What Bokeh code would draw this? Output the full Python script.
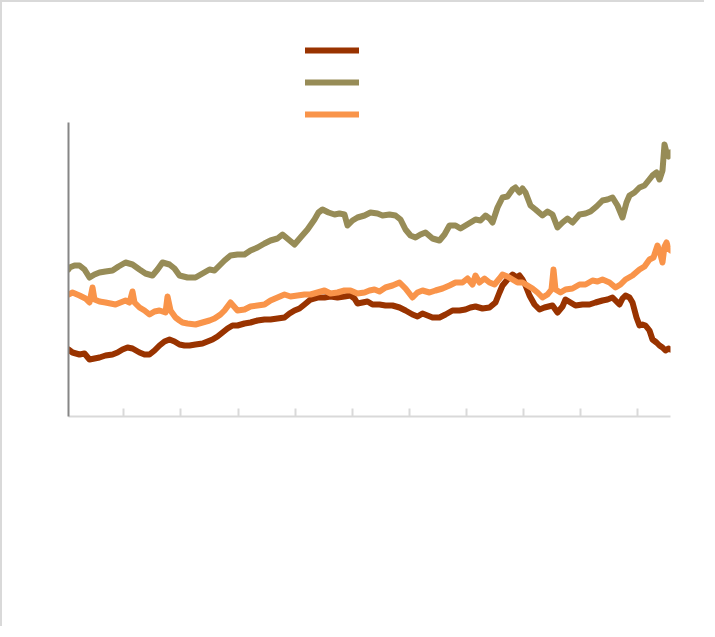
from bokeh.plotting import figure
from bokeh.models import Range1d, FixedTicker, Legend, LegendItem
from bokeh.embed import file_html
from bokeh.resources import INLINE

# ---- data (x: time index, y: level) ----
tick_positions = [55, 112, 170, 227, 284, 341, 398, 455, 512, 569]
tick_len = 8
y_axis_top = 294

olive_x = [0, 1, 6, 11, 16, 21, 26, 31, 37, 44, 50, 57, 64, 71, 77, 84, 89, 94, 101, 106,
           111, 119, 127, 134, 141, 146, 152, 156, 162, 169, 176, 182, 189, 196, 202, 209, 214, 220, 226, 232,
           239, 246, 250, 254, 260, 266, 271, 276, 279, 284, 289, 296, 302, 309, 314, 321, 327, 332, 337, 342,
           347, 352, 357, 364, 371, 376, 381, 387, 392, 397, 402, 407, 412, 417, 421, 424, 429, 434, 439, 444,
           447, 451, 454, 457, 462, 467, 474, 479, 484, 489, 494, 499, 504, 511, 517, 522, 528, 534, 539, 544,
           549, 554, 558, 561, 566, 571, 576, 580, 584, 588, 591, 594, 596, 598, 600, 602]
olive_y = [147, 149, 151, 151, 147, 139, 142, 144, 145, 146, 150, 154, 152, 147, 143, 141, 147, 154, 152, 148,
           141, 139, 139, 143, 147, 146, 152, 156, 161, 162, 162, 166, 169, 173, 176, 178, 182, 177, 172, 179,
           187, 197, 204, 207, 204, 202, 203, 202, 191, 196, 199, 201, 204, 203, 201, 202, 201, 197, 187, 181,
           179, 182, 184, 178, 176, 182, 191, 191, 188, 191, 194, 197, 196, 201, 198, 194, 209, 219, 220, 227,
           229, 224, 228, 224, 211, 207, 201, 205, 202, 189, 194, 198, 194, 202, 203, 205, 210, 216, 217, 219,
           211, 199, 214, 221, 224, 229, 231, 236, 241, 244, 237, 246, 272, 264, 260, 264]

orange_x = [0, 4, 11, 17, 21, 24, 26, 31, 37, 42, 47, 52, 57, 61, 64, 66, 71, 76, 81, 86,
            91, 97, 99, 102, 107, 111, 114, 119, 127, 134, 141, 146, 152, 156, 162, 169, 176, 182, 189, 196,
            202, 209, 216, 222, 229, 236, 242, 249, 256, 262, 269, 276, 282, 289, 296, 301, 306, 311, 317, 324,
            331, 337, 344, 349, 354, 361, 367, 374, 381, 387, 394, 399, 404, 407, 411, 416, 421, 426, 431, 434,
            439, 444, 449, 454, 459, 464, 469, 474, 479, 483, 485, 487, 492, 497, 504, 511, 517, 524, 529, 534,
            541, 547, 552, 557, 564, 571, 576, 581, 585, 589, 592, 594, 596, 598, 600, 602]
orange_y = [122, 124, 121, 118, 114, 129, 117, 115, 114, 113, 112, 114, 116, 114, 125, 114, 109, 106, 102, 105,
            106, 104, 120, 106, 99, 96, 94, 93, 92, 94, 96, 98, 102, 106, 114, 106, 107, 110, 111, 112,
            116, 119, 122, 120, 121, 122, 122, 124, 126, 123, 124, 126, 126, 123, 124, 126, 127, 125, 129, 131,
            134, 128, 119, 124, 126, 124, 126, 128, 131, 134, 134, 138, 132, 141, 134, 138, 134, 132, 138, 142,
            140, 137, 134, 134, 131, 128, 124, 119, 122, 127, 147, 127, 124, 127, 128, 132, 132, 136, 135, 137,
            134, 129, 132, 137, 141, 147, 150, 157, 159, 171, 162, 154, 170, 174, 168, 166]

brown_x = [0, 4, 11, 16, 21, 26, 31, 37, 44, 49, 54, 59, 64, 71, 76, 81, 86, 91, 96, 101,
           106, 111, 116, 121, 127, 134, 139, 144, 149, 154, 159, 164, 169, 176, 182, 189, 196, 202, 209, 216,
           221, 226, 231, 236, 242, 249, 256, 262, 269, 276, 282, 286, 289, 294, 299, 304, 311, 317, 324, 331,
           337, 344, 349, 354, 359, 364, 371, 377, 384, 391, 397, 402, 407, 414, 421, 427, 431, 434, 439, 444,
           448, 451, 454, 457, 461, 466, 471, 476, 480, 484, 489, 494, 497, 502, 507, 514, 521, 527, 534, 539,
           544, 548, 551, 554, 557, 561, 564, 568, 571, 574, 577, 581, 584, 588, 591, 594, 597, 600, 602]
brown_y = [67, 64, 62, 63, 57, 58, 59, 61, 62, 64, 67, 69, 68, 64, 62, 62, 66, 71, 75, 77,
           75, 72, 71, 71, 72, 73, 75, 77, 80, 84, 88, 91, 91, 93, 94, 96, 97, 97, 98, 99,
           103, 106, 108, 112, 117, 119, 119, 120, 119, 120, 121, 118, 113, 114, 115, 112, 112, 111, 111, 109,
           106, 102, 100, 103, 101, 99, 99, 102, 106, 106, 107, 109, 110, 108, 109, 114, 124, 131, 137, 142,
           139, 141, 137, 131, 121, 112, 107, 109, 110, 111, 104, 110, 117, 114, 111, 112, 112, 114, 116, 117,
           119, 115, 112, 118, 121, 119, 114, 99, 91, 92, 91, 86, 77, 74, 71, 69, 66, 68, 67]

colors = ["#993300", "#978c57", "#f9944a"]

p = figure(width=704, height=626, output_backend="svg", toolbar_location=None,
           x_range=Range1d(0, 602), y_range=Range1d(0, 382),
           min_border_left=66, min_border_right=36, min_border_top=32, min_border_bottom=212)
p.styles = {"border-left": "2px solid #d9d9d9", "border-top": "2px solid #d9d9d9"}
p.background_fill_color = "white"
p.border_fill_color = "white"
p.outline_line_color = None
p.xgrid.visible = False
p.ygrid.visible = False

lw = 6
r1 = p.line(brown_x, brown_y, line_color=colors[0], line_width=lw, line_join="round", line_cap="round")
r2 = p.line(olive_x, olive_y, line_color=colors[1], line_width=lw, line_join="round", line_cap="round")
r3 = p.line(orange_x, orange_y, line_color=colors[2], line_width=lw, line_join="round", line_cap="round")

# x tick marks (inside), drawn from the tick positions
p.segment(x0=tick_positions, x1=tick_positions, y0=[0] * len(tick_positions),
          y1=[tick_len] * len(tick_positions), line_color="#d9d9d9", line_width=2)

# axes: lines only, no labels
p.xaxis.ticker = FixedTicker(ticks=[])
p.xaxis.axis_line_color = "#d9d9d9"
p.xaxis.axis_line_width = 2
p.xaxis.major_tick_line_color = None
p.xaxis.minor_tick_line_color = None

p.yaxis.ticker = FixedTicker(ticks=[])
p.yaxis.bounds = (0, y_axis_top)
p.yaxis.axis_line_color = "#868686"
p.yaxis.axis_line_width = 2
p.yaxis.major_tick_line_color = None
p.yaxis.minor_tick_line_color = None

legend = Legend(items=[LegendItem(label=" ", renderers=[r1]),
                       LegendItem(label=" ", renderers=[r2]),
                       LegendItem(label=" ", renderers=[r3])],
                location=(237, 286), orientation="vertical",
                glyph_width=54, glyph_height=32, spacing=0, padding=0, margin=0,
                label_standoff=0, label_width=0, label_height=0,
                label_text_font_size="1px",
                border_line_color=None, background_fill_alpha=0)
p.add_layout(legend, "center")

open("out.html", "w").write(file_html(p, INLINE))
